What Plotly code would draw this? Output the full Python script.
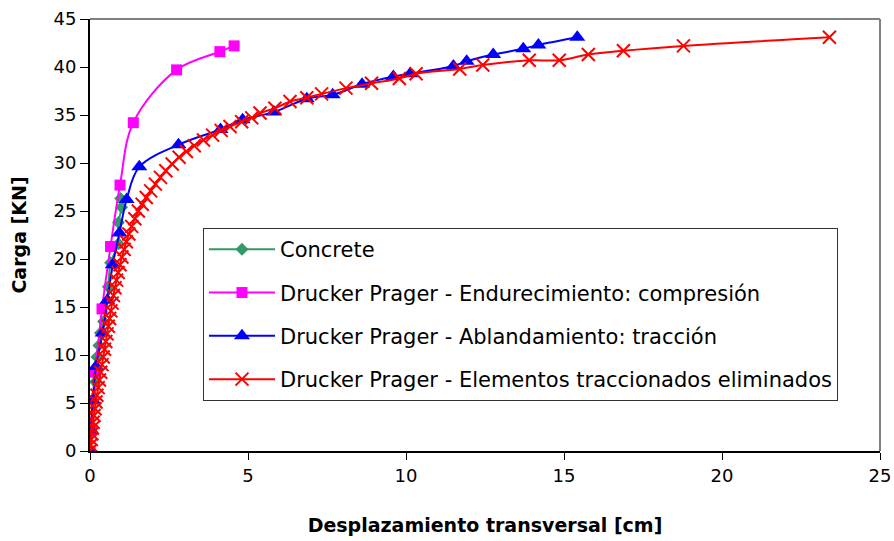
import plotly.graph_objects as go

# Concrete
conc_x = [0, 0.05, 0.17, 0.22, 0.28, 0.33, 0.43, 0.58, 0.65, 0.90, 0.90, 1.00, 0.97]
conc_y = [0, 2.5, 7.2, 9.8, 11.0, 12.3, 13.5, 17.1, 19.6, 21.6, 23.8, 25.4, 26.3]

# Drucker Prager - Endurecimiento: compresión
comp_x = [0, 0.02, 0.17, 0.38, 0.65, 0.95, 1.37, 2.74, 4.11, 4.56]
comp_y = [0, 2.1, 8.2, 14.8, 21.3, 27.7, 34.2, 39.7, 41.6, 42.2]

# Drucker Prager - Ablandamiento: tracción
abl_x = [0, 0.03, 0.09, 0.19, 0.40, 0.55, 0.72, 0.93, 1.16, 1.56, 2.80, 4.13, 4.83,
         5.82, 6.86, 7.68, 8.61, 9.60, 10.13, 11.50, 11.92, 12.76, 13.71, 14.19, 15.42]
abl_y = [0, 2.2, 5.3, 8.8, 12.3, 15.7, 19.4, 22.7, 26.2, 29.6, 31.9, 33.5, 34.5,
         35.3, 36.7, 37.1, 38.2, 39.0, 39.3, 40.1, 40.6, 41.3, 41.9, 42.3, 43.1]

# Drucker Prager - Elementos traccionados eliminados
elim_x = [0, 0.02, 0.04, 0.06, 0.08, 0.10, 0.13, 0.16, 0.19, 0.22, 0.26, 0.30, 0.34,
          0.38, 0.42, 0.46, 0.50, 0.54, 0.58, 0.62, 0.66, 0.70, 0.74, 0.79, 0.84,
          0.89, 0.95, 1.01, 1.08, 1.15, 1.23, 1.32, 1.42, 1.53, 1.65, 1.78, 1.92,
          2.07, 2.23, 2.40, 2.60, 2.82, 3.05, 3.30, 3.59, 3.88, 4.15, 4.43, 4.80,
          5.12, 5.38, 5.85, 6.33, 6.86, 7.33, 8.10, 8.91, 9.79, 10.32, 11.70, 12.43,
          13.90, 14.85, 15.77, 16.88, 18.78, 23.40]
elim_y = [0, 0.6, 1.2, 1.8, 2.4, 3.0, 3.7, 4.4, 5.1, 5.8, 6.6, 7.4, 8.2,
          9.0, 9.8, 10.6, 11.4, 12.2, 13.0, 13.8, 14.6, 15.4, 16.2, 17.0, 17.8,
          18.6, 19.4, 20.2, 21.0, 21.8, 22.6, 23.4, 24.2, 25.0, 25.7, 26.4, 27.1,
          27.8, 28.5, 29.2, 29.9, 30.6, 31.2, 31.8, 32.4, 32.9, 33.4, 33.8, 34.3,
          34.7, 35.2, 35.7, 36.4, 36.8, 37.2, 37.8, 38.3, 38.8, 39.3, 39.8, 40.2,
          40.7, 40.7, 41.3, 41.7, 42.2, 43.1]

x_ticks = [0, 5, 10, 15, 20, 25]
y_ticks = [0, 5, 10, 15, 20, 25, 30, 35, 40, 45]

FONT = "DejaVu Sans, Liberation Sans, Arial, sans-serif"

fig = go.Figure()
fig.add_trace(go.Scatter(
    x=conc_x, y=conc_y, name="Concrete", mode="lines+markers",
    line=dict(color="#339966", width=2, shape="spline"),
    marker=dict(symbol="diamond", size=10, color="#339966"),
    legendgroup="a"))
fig.add_trace(go.Scatter(
    x=comp_x, y=comp_y, name="Drucker Prager - Endurecimiento: compresión",
    mode="lines+markers",
    line=dict(color="#FF00FF", width=2, shape="spline"),
    marker=dict(symbol="square", size=11, color="#FF00FF"),
    legendgroup="b"))
fig.add_trace(go.Scatter(
    x=abl_x, y=abl_y, name="Drucker Prager - Ablandamiento: tracción",
    mode="lines+markers",
    line=dict(color="#0000FF", width=2, shape="spline"),
    marker=dict(symbol="triangle-up", size=14, color="#0000FF"),
    legendgroup="c"))
fig.add_trace(go.Scatter(
    x=elim_x, y=elim_y, name="Drucker Prager - Elementos traccionados eliminados",
    mode="lines+markers",
    line=dict(color="#FF0000", width=2, shape="spline"),
    marker=dict(symbol="x-thin", size=13, color="#FF0000",
                line=dict(color="#FF0000", width=2)),
    legendgroup="d"))

# gray frame on top and right of plot area
fig.add_shape(type="line", xref="paper", yref="paper", x0=0, x1=1, y0=1, y1=1,
              line=dict(color="#808080", width=2))
fig.add_shape(type="line", xref="paper", yref="paper", x0=1, x1=1, y0=0, y1=1,
              line=dict(color="#808080", width=2))

fig.update_layout(
    width=894, height=541,
    margin=dict(l=90, r=14, t=19, b=90),
    paper_bgcolor="white", plot_bgcolor="white",
    font=dict(family=FONT, size=18, color="black"),
    showlegend=True,
    legend=dict(
        x=0.143, y=0.516, xanchor="left", yanchor="top",
        bgcolor="white", bordercolor="#333333", borderwidth=1,
        font=dict(family=FONT, size=21, color="black"),
        tracegroupgap=13, itemwidth=66,
        entrywidth=645, entrywidthmode="pixels",
    ),
    xaxis=dict(
        range=[0, 25], tickvals=x_ticks, showgrid=False, zeroline=False,
        showline=True, linecolor="black", linewidth=2, automargin=False,
        ticks="outside", ticklen=7, tickcolor="black", tickwidth=1,
        tickfont=dict(family=FONT, size=18),
        title=dict(text="<b>Desplazamiento transversal [cm]</b>",
                   font=dict(family=FONT, size=19), standoff=34),
    ),
    yaxis=dict(
        range=[0, 45], tickvals=y_ticks, showgrid=False, zeroline=False,
        showline=True, linecolor="black", linewidth=2, automargin=False,
        ticks="outside", ticklen=8, tickcolor="black", tickwidth=1,
        tickfont=dict(family=FONT, size=18),
        title=dict(text="<b>Carga [KN]</b>",
                   font=dict(family=FONT, size=19), standoff=22),
    ),
)

fig.write_html("out.html")
